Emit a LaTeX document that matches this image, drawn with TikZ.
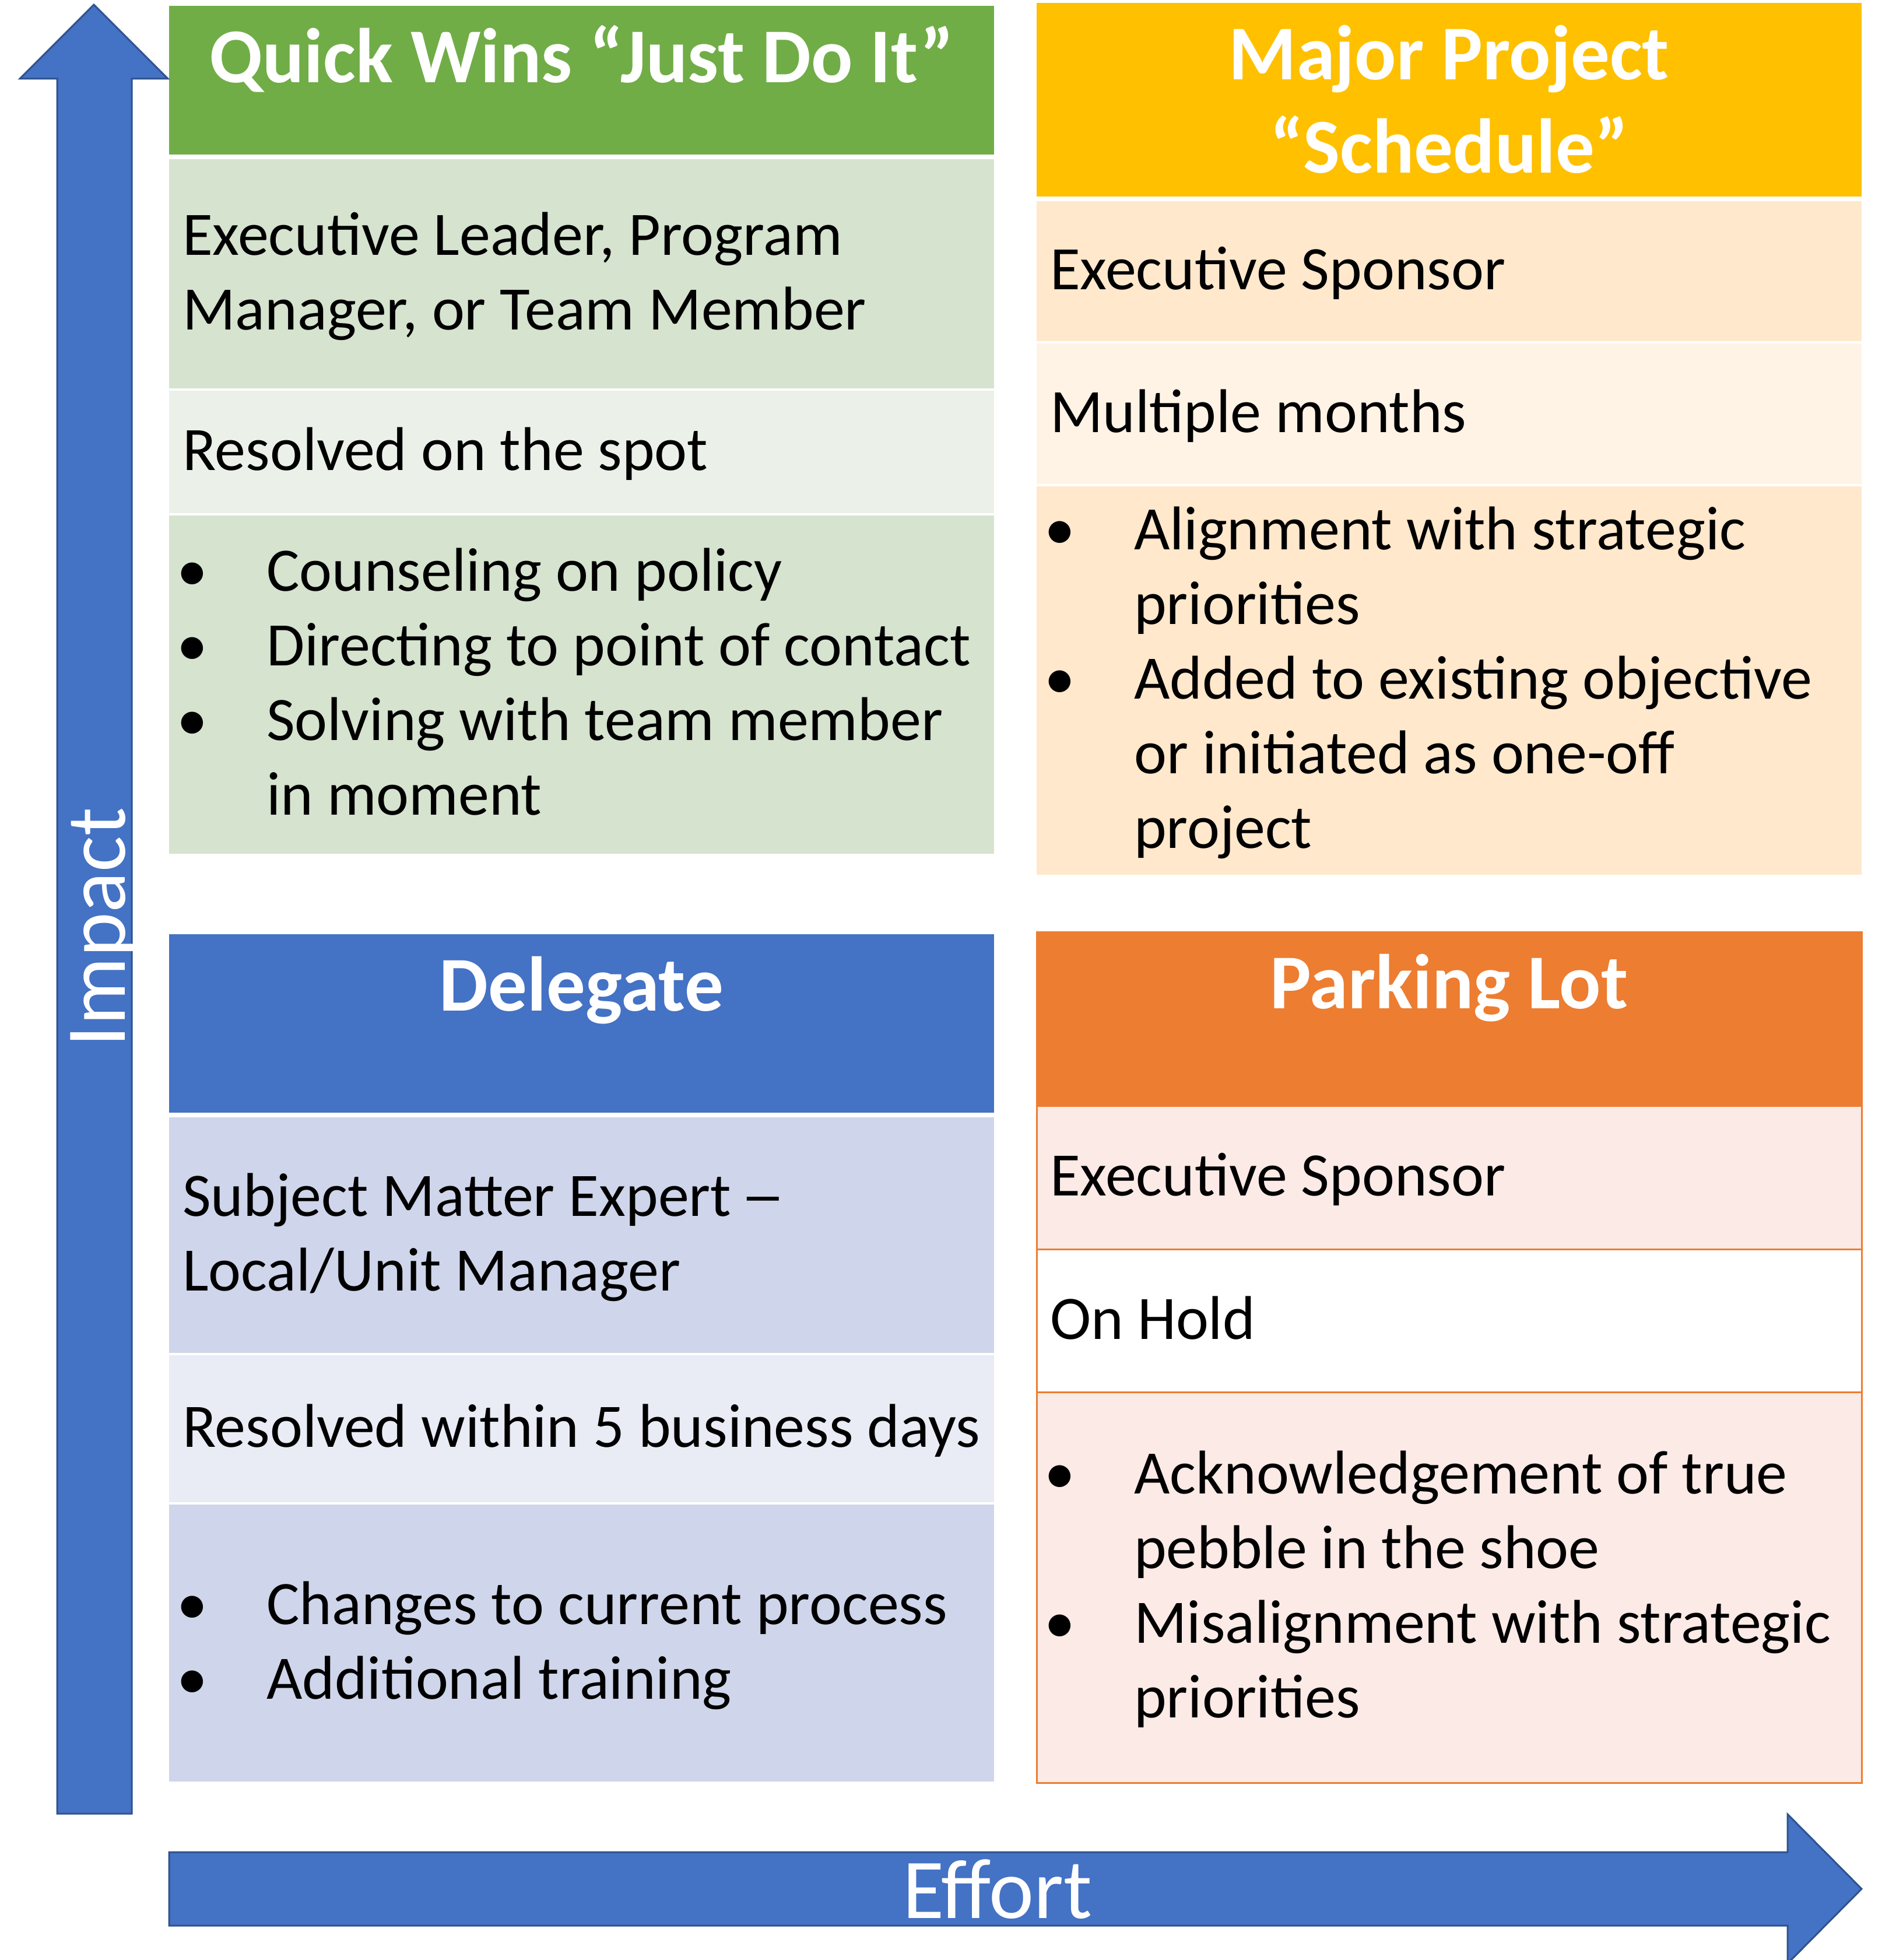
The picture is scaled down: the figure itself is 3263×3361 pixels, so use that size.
\documentclass[tikz,border=0pt]{standalone}
\usepackage{fontspec}
\usepackage{graphicx}
\setmainfont{Carlito}

% palette
\definecolor{qwHead}{HTML}{70AD47}
\definecolor{qwBandA}{HTML}{D5E3CF}
\definecolor{qwBandB}{HTML}{EBF1E9}
\definecolor{mpHead}{HTML}{FFC000}
\definecolor{mpBandA}{HTML}{FFE8CC}
\definecolor{mpBandB}{HTML}{FFF3E6}
\definecolor{dlHead}{HTML}{4472C4}
\definecolor{dlBandA}{HTML}{CFD5EA}
\definecolor{dlBandB}{HTML}{E9EBF5}
\definecolor{plHead}{HTML}{ED7D31}
\definecolor{plBand}{HTML}{FBEAE6}
\definecolor{arrowBlue}{HTML}{4472C4}
\definecolor{arrowEdge}{HTML}{2F528F}

% line strut: 0.9em above, 0.3em below the baseline
\newcommand\st{\rule[-0.3em]{0pt}{1.2em}}
\newcommand\bodyfont{\fontsize{106}{128}\selectfont}
\newcommand\headfont{\fontsize{133}{160}\selectfont\bfseries}
\newcommand\axisfont{\fontsize{146}{175}\selectfont}
\newcommand\bul{\makebox[144pt][l]{\hspace{-10pt}•}}
\newcommand\cont{\hspace*{144pt}}
\newcommand\wdash{\hspace{-8pt}\scalebox{1.45}[1]{–}}

\begin{document}
\begin{tikzpicture}[x=1pt,y=-1pt,
  cellbox/.style={anchor=north west, inner sep=0pt, outer sep=0pt, draw=none, minimum width=1415pt},
  bodytext/.style={anchor=west, inner xsep=23pt, inner ysep=0pt, align=left, font=\bodyfont, text=black},
  headtext/.style={anchor=north, inner sep=0pt, align=center, font=\headfont, text=white},
  axistext/.style={anchor=base, inner sep=0pt, font=\axisfont, text=white},
  axisarrow/.style={fill=arrowBlue, draw=arrowEdge, line width=3pt, line join=miter},
  gridline/.style={draw=plHead, line width=3pt},
]
\fill[white] (0,0) rectangle (3263,3361);
\useasboundingbox (0,0) rectangle (3263,3361);

% ---- Quick Wins
\node[cellbox, fill=qwHead,  minimum height=255pt] (qwH) at (290,10) {};
\node[cellbox, fill=qwBandA, minimum height=393pt] (qwA) at (290,273) {};
\node[cellbox, fill=qwBandB, minimum height=210pt] (qwB) at (290,670) {};
\node[cellbox, fill=qwBandA, minimum height=580pt] (qwC) at (290,884) {};
\node[headtext] (qwHt) at ([yshift=-12pt]qwH.north) {\st Quick Wins “Just Do It”};
\node[bodytext] (qwAt) at (qwA.west) {\st Executive Leader, Program\\\st Manager, or Team Member};
\node[bodytext] (qwBt) at (qwB.west) {\st Resolved on the spot};
\node[bodytext] (qwCt) at (qwC.west) {\st\bul Counseling on policy\\\st\bul Directing to point of contact\\\st\bul Solving with team member\\\st\cont in moment};

% ---- Major Project
\node[cellbox, fill=mpHead,  minimum height=332pt] (mpH) at (1778,5) {};
\node[cellbox, fill=mpBandA, minimum height=240pt] (mpA) at (1778,345) {};
\node[cellbox, fill=mpBandB, minimum height=241pt] (mpB) at (1778,589) {};
\node[cellbox, fill=mpBandA, minimum height=666pt] (mpC) at (1778,834) {};
\node[headtext] (mpHt) at ([yshift=-12pt]mpH.north) {\st Major Project\\\st “Schedule”};
\node[bodytext] (mpAt) at (mpA.west) {\st Executive Sponsor};
\node[bodytext] (mpBt) at (mpB.west) {\st Multiple months};
\node[bodytext] (mpCt) at (mpC.west) {\st\bul Alignment with strategic\\\st\cont priorities\\\st\bul Added to existing objective\\\st\cont or initiated as one-off\\\st\cont project};

% ---- Delegate
\node[cellbox, fill=dlHead,  minimum height=306pt] (dlH) at (290,1602) {};
\node[cellbox, fill=dlBandA, minimum height=404pt] (dlA) at (290,1916) {};
\node[cellbox, fill=dlBandB, minimum height=252pt] (dlB) at (290,2324) {};
\node[cellbox, fill=dlBandA, minimum height=475pt] (dlC) at (290,2580) {};
\node[headtext] (dlHt) at ([yshift=-12pt]dlH.north) {\st Delegate};
\node[bodytext] (dlAt) at (dlA.west) {\st Subject Matter Expert \wdash\\\st Local/Unit Manager};
\node[bodytext] (dlBt) at (dlB.west) {\st Resolved within 5 business days};
\node[bodytext] (dlCt) at (dlC.west) {\st\bul Changes to current process\\\st\bul Additional training};

% ---- Parking Lot
\node[cellbox, fill=plHead, minimum height=298pt] (plH) at (1778,1598) {};
\node[cellbox, fill=plBand, minimum height=246pt] (plA) at (1778,1896) {};
\node[cellbox, fill=white,  minimum height=245pt] (plB) at (1778,2142) {};
\node[cellbox, fill=plBand, minimum height=670pt] (plC) at (1778,2387) {};
\draw[gridline] (plH.north west) rectangle (plC.south east);
\draw[gridline] (plA.north west) -- (plA.north east);
\draw[gridline] (plB.north west) -- (plB.north east);
\draw[gridline] (plC.north west) -- (plC.north east);
\node[headtext] (plHt) at ([yshift=-12pt]plH.north) {\st Parking Lot};
\node[bodytext] (plAt) at (plA.west) {\st Executive Sponsor};
\node[bodytext] (plBt) at (plB.west) {\st On Hold};
\node[bodytext] (plCt) at (plC.west) {\st\bul Acknowledgement of true\\\st\cont pebble in the shoe\\\st\bul Misalignment with strategic\\\st\cont priorities};

% ---- axes
\draw[axisarrow] (98,3110) -- (98,135) -- (34,135) -- (161,8) -- (288,135) -- (226,135) -- (226,3110) -- cycle;
\draw[axisarrow] (290,3176) -- (3066,3176) -- (3066,3111) -- (3193,3239) -- (3066,3367) -- (3066,3302) -- (290,3302) -- cycle;
\node[axistext] (effortLabel) at (1711,3289) {Effort};
\node[axistext, rotate=90] (impactLabel) at (214,1590) {Impact};
\end{tikzpicture}
\end{document}
